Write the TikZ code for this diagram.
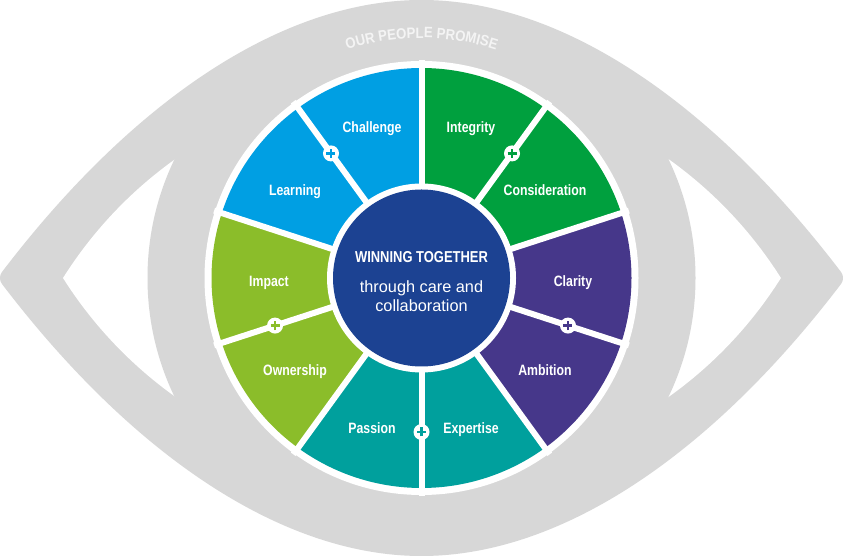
\documentclass[tikz,border=0pt]{standalone}
\usepackage{fontspec}
\setmainfont{Liberation Sans}
\newfontfamily\lblfont[FakeStretch=0.82]{Liberation Sans}
\newfontfamily\arcfont[FakeStretch=0.88]{Liberation Sans}
\usetikzlibrary{decorations.text}
\definecolor{eyegray}{HTML}{D7D7D7}
\definecolor{arcwhite}{HTML}{F4F4F4}
\definecolor{cblue}{HTML}{009FE3}
\definecolor{cgreen}{HTML}{00A03E}
\definecolor{cpurple}{HTML}{46378A}
\definecolor{cteal}{HTML}{00A09D}
\definecolor{clime}{HTML}{8BBD2A}
\definecolor{cnavy}{HTML}{1C4292}
\tikzset{
  lbl/.style={anchor=base, text=white, inner sep=0pt,
    font=\lblfont\bfseries\fontsize{15}{18}\selectfont},
  centertitle/.style={anchor=base, text=white, inner sep=0pt,
    font=\lblfont\bfseries\fontsize{15.8}{19}\selectfont},
  centertext/.style={anchor=base, text=white, inner sep=0pt,
    font=\fontsize{16.3}{19}\selectfont},
}
\begin{document}
\begin{tikzpicture}[x=1pt,y=1pt]
\useasboundingbox (0,0) rectangle (843,556);
\fill[white] (0,0) rectangle (843,556);
\coordinate (C) at (421.5,278);
% eye outline
\filldraw[eyegray, line width=20pt, line join=round]
  (10,278) .. controls (138,446) and (285,546) .. (421.5,546)
  .. controls (558,546) and (705,446) .. (833,278)
  .. controls (705,110) and (558,10) .. (421.5,10)
  .. controls (285,10) and (138,110) .. (10,278) -- cycle;
% sclera
\fill[white] (63,278) arc[start angle=147.7, end angle=32.3, radius=424.7pt]
  arc[start angle=-32.3, end angle=-147.7, radius=424.7pt] -- cycle;
% iris ring
\fill[eyegray] (C) circle[radius=274pt];
\fill[white] (C) circle[radius=217pt];
% segments
\foreach \s/\col in {54/cgreen, 18/cgreen, -18/cpurple, -54/cpurple,
  -90/cteal, -126/cteal, -162/clime, 162/clime, 126/cblue, 90/cblue}{
  \fill[\col] (C) -- ([shift={(C)}]\s:210pt)
    arc[start angle=\s, end angle=\s+36, radius=210pt] -- cycle;
}
\foreach \a in {18,54,...,342}{
  \draw[white, line width=6pt] (C) -- ([shift={(C)}]\a:218pt);
}
\fill[white] (C) circle[radius=94.5pt];
\fill[cnavy] (C) circle[radius=88.5pt];
% plus markers
\foreach \a/\col in {126/cblue, 54/cgreen, -18/cpurple, -90/cteal, 198/clime}{
  \fill[white] ([shift={(C)}]\a:154pt) circle[radius=8pt];
  \draw[\col, line width=2.2pt] ([shift={(C)}]\a:154pt) ++(-4.5,0) -- ++(9,0);
  \draw[\col, line width=2.2pt] ([shift={(C)}]\a:154pt) ++(0,-4.5) -- ++(0,9);
}
% arc title
\path[decorate, decoration={text along path, text align=center, text color=arcwhite,
  text={|\arcfont\bfseries\fontsize{15}{18}\selectfont|OUR PEOPLE PROMISE}}]
  ([shift={(C)}]132:240pt) arc[start angle=132, end angle=48, radius=240pt];
% labels
\node[lbl] (challenge) at (372,423.6) {Challenge};
\node[lbl] (integrity) at (471,423.6) {Integrity};
\node[lbl] (learning) at (295,360.6) {Learning};
\node[lbl] (consideration) at (545,360.6) {Consideration};
\node[lbl] (impact) at (269,269.6) {Impact};
\node[lbl] (clarity) at (573,269.6) {Clarity};
\node[lbl] (ownership) at (295,180.6) {Ownership};
\node[lbl] (ambition) at (545,180.6) {Ambition};
\node[lbl] (passion) at (372,122.6) {Passion};
\node[lbl] (expertise) at (471,122.6) {Expertise};
% centre
\node[centertitle] (win) at (421.5,293) {WINNING TOGETHER};
\node[centertext] (through) at (421.5,263) {through care and};
\node[centertext] (collab) at (421.5,244) {collaboration};
\end{tikzpicture}
\end{document}
